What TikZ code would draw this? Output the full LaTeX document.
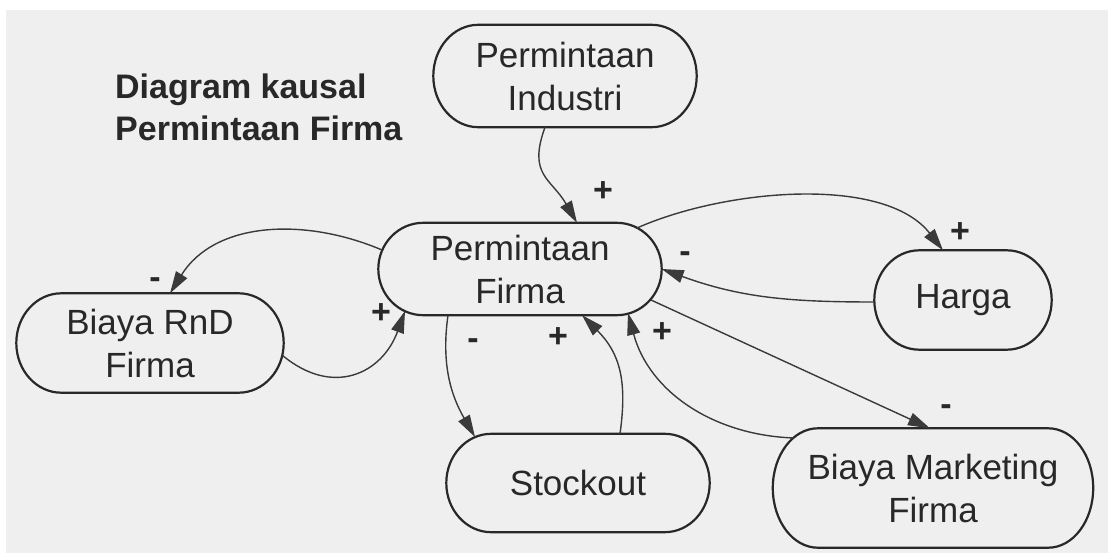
\documentclass[tikz,border=0pt]{standalone}
\usepackage{fontspec}
\setmainfont{Liberation Sans}
\usetikzlibrary{arrows.meta,calc}
\definecolor{paper}{RGB}{239,239,239}
\definecolor{ink}{RGB}{40,40,40}
\definecolor{wire}{RGB}{58,58,58}
% capsule outline around a node: straight top/bottom, half-ellipse ends of x radius #2 (pt)
\newcommand\pillborder[2]{%
  \draw[pillline] let \p1=(#1.north west), \p2=(#1.south east), \n1={(\y1-\y2)/2} in
    (\x1+#2pt,\y1) -- (\x2-#2pt,\y1)
    arc[start angle=90,end angle=-90,x radius=#2pt,y radius=\n1]
    -- (\x1+#2pt,\y2)
    arc[start angle=270,end angle=90,x radius=#2pt,y radius=\n1]
    -- cycle;}
\begin{document}
\begin{tikzpicture}[x=1pt,y=-1pt,
  varnode/.style={inner sep=0pt, align=center, text=ink,
    font=\fontsize{35pt}{43pt}\selectfont},
  pillline/.style={draw=ink, line width=2.2pt},
  link/.style={draw=wire, line width=1.4pt, -{Triangle[length=22pt,width=13pt]}},
  sign/.style={text=ink, inner sep=0pt, font=\bfseries\fontsize{34pt}{40pt}\selectfont}]

% page and paper
\fill[white] (0,0) rectangle (1108,553);
\fill[paper] (6,10) rectangle (1108,553);
\useasboundingbox (0,0) rectangle (1108,553);

% title
\node[anchor=north west, inner sep=0pt, align=left, text=ink,
      font=\bfseries\fontsize{34pt}{42pt}\selectfont] (title) at (115,74)
  {Diagram kausal\\Permintaan Firma};

% variables
\node[varnode, minimum width=263pt, minimum height=102pt] (PI)    at (565,76)  {Permintaan\\Industri};
\node[varnode, minimum width=283pt, minimum height=92pt]  (PF)    at (520,269) {Permintaan\\Firma};
\node[varnode, minimum width=267pt, minimum height=99pt]  (RnD)   at (150,343) {Biaya RnD\\Firma};
\node[varnode, minimum width=177pt, minimum height=99pt]  (Harga) at (963,300) {Harga};
\node[varnode, minimum width=263pt, minimum height=98pt]  (SO)    at (578,483) {Stockout};
\node[varnode, minimum width=320pt, minimum height=119pt] (BMF)   at (933,488) {Biaya Marketing\\Firma};

\pillborder{PI}{45}
\pillborder{PF}{45}
\pillborder{RnD}{45}
\pillborder{Harga}{45}
\pillborder{SO}{45}
\pillborder{BMF}{45}

% causal links
\draw[link] ($(PI.south)+(-20,0)$) to[out=250,in=120,looseness=1.3] ($(PF.north)+(57,0)$);
\draw[link] ($(PF.center)+(117,-41)$) to[out=24,in=128,looseness=0.8] ($(Harga.north)+(-20,0)$);
\draw[link] ($(Harga.west)+(0,2)$) to[out=180,in=-20] (PF.east);
\draw[link] ($(PF.center)+(-138,-19)$) to[out=157,in=58] ($(RnD.north)+(20,0)$);
\draw[link] ($(RnD.center)+(132,12)$) to[out=-40,in=250,looseness=1.3] ($(PF.center)+(-115,42)$);
\draw[link] ($(PF.south)+(-72,0)$) to[out=262,in=120] ($(SO.center)+(-103,-46)$);
\draw[link] ($(SO.north)+(42,0)$) to[out=82,in=-45,looseness=1.1] ($(PF.south)+(62,0)$);
\draw[link] ($(BMF.center)+(-139,-50)$) to[out=178,in=-75] ($(PF.center)+(108,44)$);
\draw[link] ($(PF.center)+(131,31)$) -- ($(BMF.north)+(-3,0)$);

% polarities
\node[sign] (p1) at (603,192) {+};
\node[sign] (p2) at (960,233) {+};
\node[sign] (p3) at (685,257) {-};
\node[sign] (p4) at (155,283) {-};
\node[sign] (p5) at (381,314) {+};
\node[sign] (p6) at (473,344) {-};
\node[sign] (p7) at (558,338) {+};
\node[sign] (p8) at (662,333) {+};
\node[sign] (p9) at (946,410) {-};
\end{tikzpicture}
\end{document}
